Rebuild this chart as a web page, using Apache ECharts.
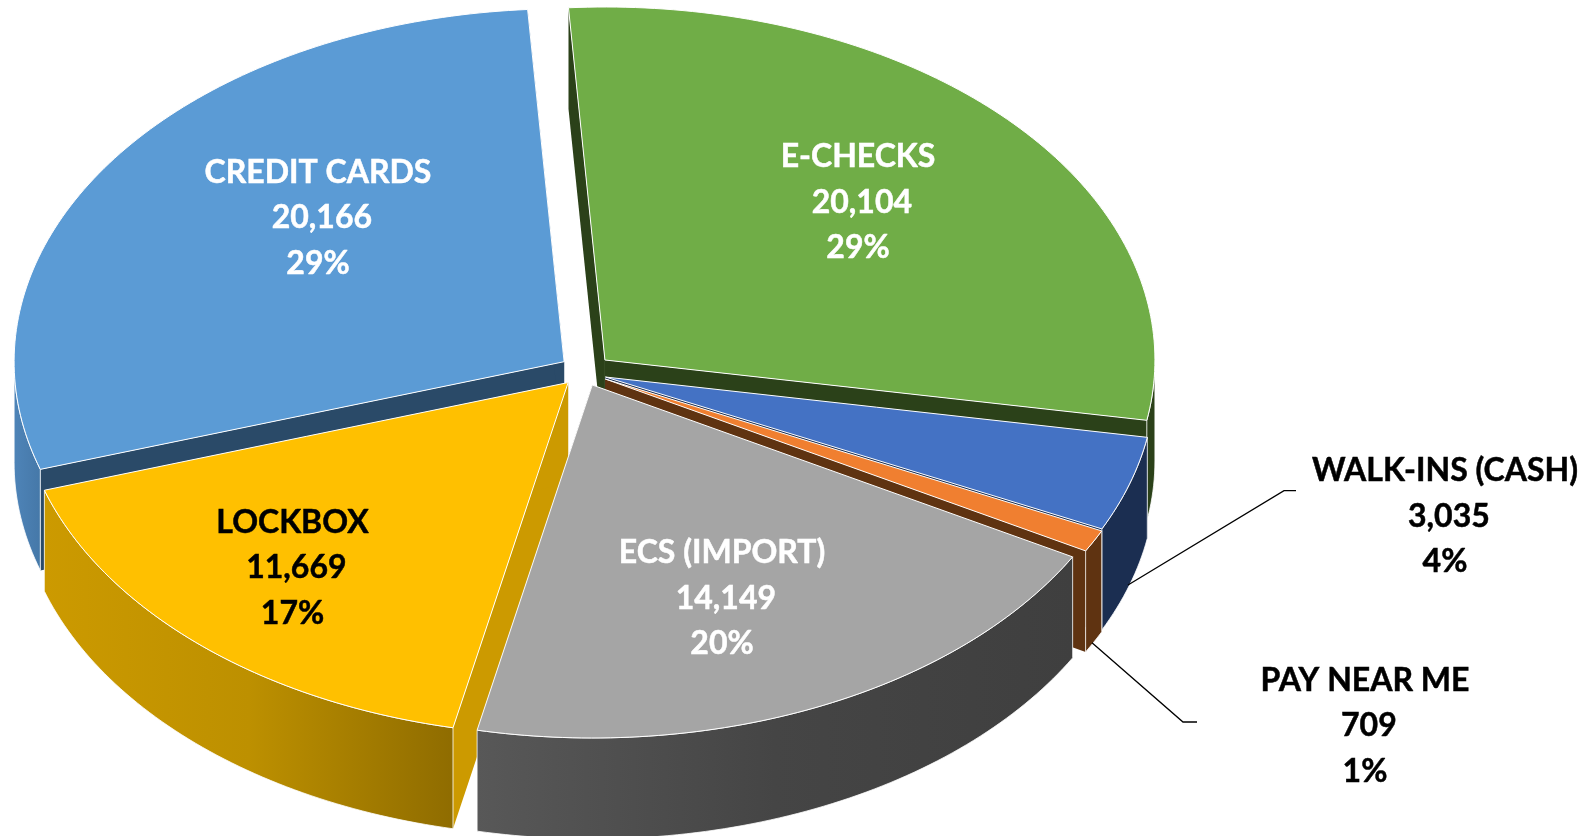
<!DOCTYPE html>
<html>
<head>
<meta charset="utf-8">
<title>Payments by channel</title>
<script src="https://cdn.jsdelivr.net/npm/echarts@6/dist/echarts.min.js"></script>
<style>
  html, body { margin: 0; padding: 0; background: #fff; }
  #chart { width: 1588px; height: 836px; }
</style>
</head>
<body>
<div id="chart"></div>
<script>
  // chart values, clockwise from the top
  var categories = ['E-CHECKS', 'WALK-INS (CASH)', 'PAY NEAR ME', 'ECS (IMPORT)', 'LOCKBOX', 'CREDIT CARDS'];
  var amounts = [20104, 3035, 709, 14149, 11669, 20166];
  var percents = ['29%', '4%', '1%', '20%', '17%', '29%'];

  // look of the slices
  var topColors = ['#70AD47', '#4472C4', '#F07F30', '#A5A5A5', '#FFC000', '#5B9BD5'];
  var edgeColors = ['#2B4119', '#1B2E51', '#5F3311', '#404040', '#CC9A00', '#2A4A68'];
  var rimColors = [
    ['#2B4119', '#2B4119', '#2B4119'], ['#1B2E51', '#1B2E51', '#1B2E51'], ['#5F3311', '#5F3311', '#5F3311'],
    ['#585858', '#454545', '#3F3F3F'], ['#CC9A00', '#BD9000', '#8F6C00'], ['#4E84B8', '#4A7EB0', '#4578A8']
  ];
  var labelColors = ['#fff', '#000', '#000', '#fff', '#000', '#fff'];
  var explodeAmountX = [1, 0.8, 0.85, 0.62, 1, 1];
  var explodeAmountY = [1, 1.3, 1.13, 0.98, 1, 1];
  var drawOrder = [0, 2, 3, 5, 4, 1];

  // pie geometry, all in pixels
  var cx = 585.6, cy = 370.7, rx = 550, ry = 353, depth = 101;
  var explodeX = 26, explodeY = 16;
  var startAngle = -3.8;
  var labelPos = [[858, 202.5], [1445, 516.5], [1365, 726], [722, 598.5], [292.5, 568], [318, 218]];
  var leaderLines = [
    null,
    [[1128, 585], [1284, 490.7], [1296, 490.7]],
    [[1092, 642.7], [1183, 722], [1197, 722]],
    null, null, null
  ];

  var total = amounts.reduce(function (a, b) { return a + b; }, 0);

  function rimPoint(apex, deg, drop) {
    var r = deg * Math.PI / 180;
    return [apex[0] + rx * Math.sin(r), apex[1] - ry * Math.cos(r) + drop];
  }

  function arc(apex, from, to, drop) {
    var pts = [], n = Math.max(2, Math.ceil(Math.abs(to - from)));
    for (var i = 0; i <= n; i++) {
      pts.push(rimPoint(apex, from + (to - from) * i / n, drop));
    }
    return pts;
  }

  function sliceRange(idx) {
    var before = 0;
    for (var i = 0; i < idx; i++) before += amounts[i];
    return [startAngle + before / total * 360, startAngle + (before + amounts[idx]) / total * 360];
  }

  function renderSlice(params, api) {
    var idx = params.dataIndex;
    var range = sliceRange(idx);
    var a0 = range[0], a1 = range[1];
    var mid = (a0 + a1) / 2 * Math.PI / 180;
    var apex = [
      cx + explodeX * explodeAmountX[idx] * Math.sin(mid),
      cy - explodeY * explodeAmountY[idx] * Math.cos(mid)
    ];
    var z = drawOrder[idx] * 10;
    var children = [];

    // the two cut faces
    [a0, a1].forEach(function (a) {
      var p = rimPoint(apex, a, 0);
      children.push({
        type: 'polygon', z2: z,
        shape: { points: [apex, p, [p[0], p[1] + depth], [apex[0], apex[1] + depth]] },
        style: { fill: edgeColors[idx] }
      });
    });

    // outer wall, only the part facing the viewer
    var w0 = Math.max(a0, 90), w1 = Math.min(a1, 270);
    if (w1 > w0) {
      var rim = rimColors[idx];
      children.push({
        type: 'polygon', z2: z + 1,
        shape: { points: arc(apex, w0, w1, 0).concat(arc(apex, w1, w0, depth)) },
        style: {
          fill: new echarts.graphic.LinearGradient(0, 0, 1, 0, [
            { offset: 0, color: rim[0] },
            { offset: 0.5, color: rim[1] },
            { offset: 1, color: rim[2] }
          ]),
          stroke: '#fff', lineWidth: 0.8, lineJoin: 'round'
        }
      });
    }

    // top face
    children.push({
      type: 'polygon', z2: z + 2,
      shape: { points: [apex].concat(arc(apex, a0, a1, 0)) },
      style: { fill: topColors[idx], stroke: '#fff', lineWidth: 1, lineJoin: 'round' }
    });

    if (leaderLines[idx]) {
      children.push({
        type: 'polyline', z2: 90,
        shape: { points: leaderLines[idx] },
        style: { fill: 'none', stroke: '#000', lineWidth: 1.3 }
      });
    }

    children.push({
      type: 'text', z2: 100,
      style: {
        text: categories[idx] + '\n\u00a0' + api.value(0).toLocaleString('en-US') + '\n' + percents[idx],
        x: labelPos[idx][0], y: labelPos[idx][1],
        fill: labelColors[idx],
        stroke: labelColors[idx],
        lineWidth: 0.5,
        font: 'bold 32px Lato',
        lineHeight: 45.6,
        align: 'center', verticalAlign: 'middle'
      }
    });

    return { type: 'group', children: children };
  }

  var myChart = echarts.init(document.getElementById('chart'), null, { renderer: 'canvas' });
  myChart.setOption({
    animation: false,
    backgroundColor: '#fff',
    series: [{
      type: 'custom',
      coordinateSystem: 'none',
      renderItem: renderSlice,
      data: amounts.map(function (v) { return [v]; })
    }]
  });
</script>
</body>
</html>
